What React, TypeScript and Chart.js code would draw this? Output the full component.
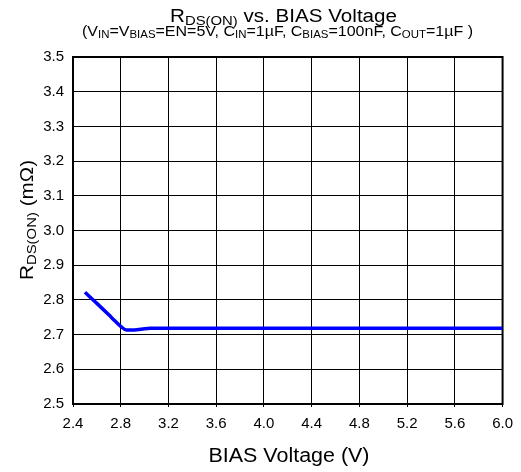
import React, { useEffect, useRef } from "react";
import { Chart, registerables } from "chart.js";

Chart.register(...registerables);

const BIAS_V = [2.5, 2.6, 2.7, 2.75, 2.8, 2.85, 2.9, 2.95, 3.0, 3.05, 3.1, 3.2, 3.6, 4.0, 4.4, 4.8, 5.2, 5.6, 6.0];
const RDS_ON = [2.822, 2.79, 2.757, 2.74, 2.724, 2.713, 2.713, 2.715, 2.717, 2.718, 2.718, 2.718, 2.718, 2.718, 2.718, 2.718, 2.718, 2.718, 2.718];
const X_TICKS = [2.4, 2.8, 3.2, 3.6, 4.0, 4.4, 4.8, 5.2, 5.6, 6.0];
const Y_TICKS = [2.5, 2.6, 2.7, 2.8, 2.9, 3.0, 3.1, 3.2, 3.3, 3.4, 3.5];

type Seg = [string, boolean];
const TITLE: Seg[] = [["R", false], ["DS(ON)", true], [" vs. BIAS Voltage", false]];
const SUBTITLE: Seg[] = [
  ["(V", false], ["IN", true], ["=V", false], ["BIAS", true], ["=EN=5V, C", false], ["IN", true],
  ["=1µF, C", false], ["BIAS", true], ["=100nF, C", false], ["OUT", true], ["=1µF )", false],
];
const Y_TITLE: Seg[] = [["R", false], ["DS(ON)", true], [" (mΩ)", false]];
const X_TITLE: Seg[] = [["BIAS Voltage (V)", false]];

const FONT = "'Liberation Sans', Arial, sans-serif";

function drawRich(
  ctx: CanvasRenderingContext2D,
  segs: Seg[],
  cx: number,
  baseY: number,
  size: number,
  targetWidth: number
) {
  const sub = Math.round(size * 0.72);
  const widths = segs.map(([t, s]) => {
    ctx.font = `${s ? sub : size}px ${FONT}`;
    return ctx.measureText(t).width;
  });
  const total = widths.reduce((a, b) => a + b, 0);
  const sx = targetWidth / total;
  ctx.save();
  ctx.translate(cx, baseY);
  ctx.scale(sx, 1);
  let x = -total / 2;
  ctx.textAlign = "left";
  ctx.textBaseline = "alphabetic";
  segs.forEach(([t, s], i) => {
    ctx.font = `${s ? sub : size}px ${FONT}`;
    ctx.fillText(t, x, s ? size * 0.16 : 0);
    x += widths[i];
  });
  ctx.restore();
}

const textPlugin = {
  id: "customText",
  beforeDatasetsDraw(chart: any) {
    const { ctx, chartArea } = chart;
    ctx.save();
    ctx.strokeStyle = "#000";
    ctx.lineWidth = 2;
    ctx.strokeRect(chartArea.left, chartArea.top, chartArea.right - chartArea.left, chartArea.bottom - chartArea.top);
    ctx.restore();
  },
  afterDraw(chart: any) {
    const { ctx } = chart;
    ctx.save();
    ctx.fillStyle = "#000";
    drawRich(ctx, TITLE, 283.5, 22, 18, 227);
    drawRich(ctx, SUBTITLE, 277.5, 36, 14, 391);
    ctx.save();
    ctx.translate(33, 220);
    ctx.rotate(-Math.PI / 2);
    drawRich(ctx, Y_TITLE, 0, 0, 18, 120);
    ctx.restore();
    drawRich(ctx, X_TITLE, 289, 462, 20, 161);
    ctx.restore();
  },
};

export default function App() {
  const ref = useRef<HTMLCanvasElement>(null);
  useEffect(() => {
    document.body.style.margin = "0";
    const canvas = ref.current!;
    const chart = new Chart(canvas, {
      type: "line",
      data: {
        datasets: [
          {
            data: BIAS_V.map((x, i) => ({ x, y: RDS_ON[i] })),
            borderColor: "#0000ff",
            borderWidth: 3.5,
            pointRadius: 0,
            cubicInterpolationMode: "monotone",
            fill: false,
          },
        ],
      },
      options: {
        animation: false,
        responsive: false,
        devicePixelRatio: 1,
        layout: { padding: { top: 57, right: 14, left: 0, bottom: 0 } },
        plugins: { legend: { display: false }, tooltip: { enabled: false }, title: { display: false } },
        scales: {
          x: {
            type: "linear",
            min: 2.4,
            max: 6.0,
            afterBuildTicks: (s: any) => { s.ticks = X_TICKS.map((v) => ({ value: v })); },
            afterFit: (s: any) => { s.height = 68; },
            grid: { color: "#000", lineWidth: 1, drawTicks: true, tickLength: 3, tickColor: "#000" },
            border: { display: false },
            ticks: {
              color: "#000",
              font: { family: FONT, size: 15 },
              padding: 8,
              maxRotation: 0,
              autoSkip: false,
              callback: (v: any) => Number(v).toFixed(1),
            },
          },
          y: {
            min: 2.5,
            max: 3.5,
            afterBuildTicks: (s: any) => { s.ticks = Y_TICKS.map((v) => ({ value: v })); },
            afterFit: (s: any) => { s.width = 73; },
            grid: { color: "#000", lineWidth: 1, drawTicks: false },
            border: { display: false },
            ticks: {
              color: "#000",
              font: { family: FONT, size: 15 },
              padding: 9,
              autoSkip: false,
              callback: (v: any) => Number(v).toFixed(1),
            },
          },
        },
      },
      plugins: [textPlugin],
    } as any);
    return () => chart.destroy();
  }, []);
  return (
    <div style={{ width: 521, height: 472 }}>
      <canvas ref={ref} width={521} height={472} style={{ display: "block" }} />
    </div>
  );
}
